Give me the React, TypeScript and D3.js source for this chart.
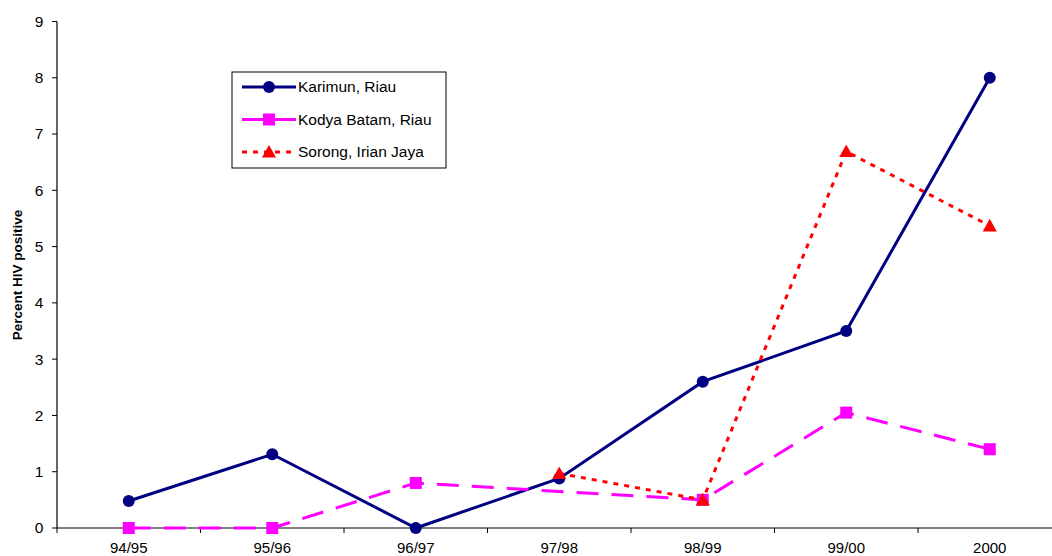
import React from "react";
import * as d3 from "d3";

const categories = ["94/95", "95/96", "96/97", "97/98", "98/99", "99/00", "2000"];
const karimun: (number | null)[] = [0.48, 1.31, 0, 0.88, 2.6, 3.5, 8.0];
const kodyaBatam: (number | null)[] = [0, 0, 0.8, null, 0.5, 2.05, 1.4];
const sorong: (number | null)[] = [null, null, null, 0.97, 0.5, 6.69, 5.37];
const yTicks = [0, 1, 2, 3, 4, 5, 6, 7, 8, 9];
const seriesNames = ["Karimun, Riau", "Kodya Batam, Riau", "Sorong, Irian Jaya"];

const W = 1052;
const H = 556;
const left = 57;
const step = 143.5;
const font = "'Liberation Sans', Arial, sans-serif";

export default function App() {
  const x = d3.scaleBand<string>().domain(categories).range([left, left + step * categories.length]).padding(0);
  const y = d3.scaleLinear().domain([0, 9]).range([528, 21.5]);
  const cx = (c: string) => (x(c) as number) + x.bandwidth() / 2;

  const pts = (vals: (number | null)[]) =>
    categories.map((c, i) => ({ c, v: vals[i] })).filter((p) => p.v !== null) as { c: string; v: number }[];
  const mkLine = (vals: (number | null)[]) =>
    d3.line<{ c: string; v: number }>().x((p) => cx(p.c)).y((p) => y(p.v))(pts(vals)) || "";

  const tri = (px: number, py: number, s = 7) =>
    `M${px},${py - s} L${px + s},${py + s * 0.8} L${px - s},${py + s * 0.8} Z`;

  const navy = "#000080";
  const mag = "#FF00FF";
  const red = "#FF0000";

  const boundaries = d3.range(categories.length + 1).map((i) => left + i * step);

  return (
    <svg width={W} height={H} style={{ position: "absolute", left: 0, top: 0, background: "#fff" }} fontFamily={font}>
      {/* y axis */}
      <line x1={left} x2={left} y1={y(9)} y2={y(0)} stroke="#000" strokeWidth={1.2} />
      {yTicks.map((t) => (
        <g key={t}>
          <line x1={left - 5} x2={left} y1={y(t)} y2={y(t)} stroke="#000" strokeWidth={1} />
          <text x={39} y={y(t)} dy="0.35em" textAnchor="middle" fontSize={15.5}>
            {t}
          </text>
        </g>
      ))}
      {/* x axis */}
      <line x1={left} x2={W} y1={y(0)} y2={y(0)} stroke="#000" strokeWidth={1.2} />
      {boundaries.map((b, i) => (
        <line key={i} x1={b} x2={b} y1={y(0)} y2={y(0) + 5} stroke="#000" strokeWidth={1} />
      ))}
      {categories.map((c) => (
        <text key={c} x={cx(c)} y={553} textAnchor="middle" fontSize={15}>
          {c}
        </text>
      ))}
      <text
        transform={`translate(22,275) rotate(-90)`}
        textAnchor="middle"
        fontSize={13.5}
        fontWeight="bold"
      >
        Percent HIV positive
      </text>

      {/* series lines */}
      <path d={mkLine(karimun)} fill="none" stroke={navy} strokeWidth={3} />
      <path d={mkLine(kodyaBatam)} fill="none" stroke={mag} strokeWidth={3} strokeDasharray="22,13" />
      <path d={mkLine(sorong)} fill="none" stroke={red} strokeWidth={3} strokeDasharray="5,6" />

      {/* markers */}
      {pts(karimun).map((p) => (
        <circle key={p.c} cx={cx(p.c)} cy={y(p.v)} r={6} fill={navy} />
      ))}
      {pts(kodyaBatam).map((p) => (
        <rect key={p.c} x={cx(p.c) - 6} y={y(p.v) - 6} width={12} height={12} fill={mag} />
      ))}
      {pts(sorong).map((p) => (
        <path key={p.c} d={tri(cx(p.c), y(p.v))} fill={red} />
      ))}

      {/* legend */}
      <rect x={232} y={72} width={214} height={96} fill="#fff" stroke="#000" strokeWidth={1} />
      {seriesNames.map((n, i) => {
        const ly = 87 + i * 32.5;
        const color = [navy, mag, red][i];
        return (
          <g key={n}>
            <line
              x1={242}
              x2={296}
              y1={ly}
              y2={ly}
              stroke={color}
              strokeWidth={3}
              strokeDasharray={i === 1 ? "22,11" : i === 2 ? "5,6" : undefined}
            />
            {i === 0 && <circle cx={269} cy={ly} r={6} fill={navy} />}
            {i === 1 && <rect x={263} y={ly - 6} width={12} height={12} fill={mag} />}
            {i === 2 && <path d={tri(269, ly)} fill={red} />}
            <text x={298} y={ly} dy="0.35em" fontSize={15.5}>
              {n}
            </text>
          </g>
        );
      })}
    </svg>
  );
}
